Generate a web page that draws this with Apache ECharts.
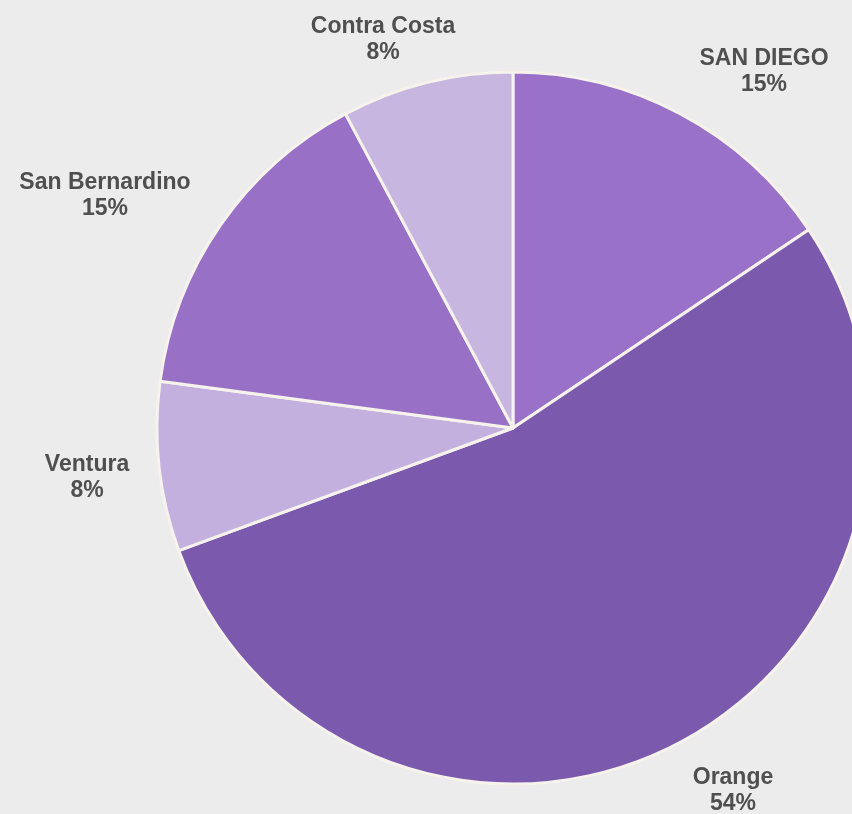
<!DOCTYPE html>
<html>
<head>
<meta charset="utf-8">
<script src="https://cdn.jsdelivr.net/npm/echarts@6/dist/echarts.min.js"></script>
<style>
  html, body { margin: 0; padding: 0; background: #ececec; }
  #chart { width: 852px; height: 814px; }
</style>
</head>
<body>
<div id="chart"></div>
<script>
// counties, clockwise from 12 o'clock
const counties = ["SAN DIEGO", "Orange", "Ventura", "San Bernardino", "Contra Costa"];
const shares = [15.6, 53.8, 7.7, 15.1, 7.8];

const COLORS = ["#9a71c8", "#7b5aae", "#c3b0de", "#9870c6", "#c7b7e0"];
// where each label sits (centre of the text block)
const LABEL_AT = {
  "SAN DIEGO": [764, 72],
  "Orange": [733, 791],
  "Ventura": [87, 478],
  "San Bernardino": [105, 196],
  "Contra Costa": [383, 40]
};

const chart = echarts.init(document.getElementById("chart"));

const option = {
  animation: false,
  backgroundColor: "#ececec",
  series: [
    {
      type: "pie",
      center: [513, 428],
      radius: 356,
      startAngle: 90,
      clockwise: true,
      percentPrecision: 0,
      avoidLabelOverlap: false,
      itemStyle: {
        borderColor: "#f6f2ec",
        borderWidth: 3
      },
      label: {
        show: true,
        position: "outside",
        formatter: "{b}\n{d}%",
        fontFamily: "Liberation Sans, Arial, sans-serif",
        fontWeight: "bold",
        fontSize: 23,
        lineHeight: 26,
        color: "#4f4f4f",
        align: "center"
      },
      labelLine: { show: false },
      labelLayout: params => {
        const p = LABEL_AT[params.text.split("\n")[0]];
        return { x: p[0], y: p[1], align: "center", verticalAlign: "middle" };
      },
      data: counties.map((name, i) => ({
        name: name,
        value: shares[i],
        itemStyle: { color: COLORS[i] }
      }))
    }
  ]
};

chart.setOption(option);
</script>
</body>
</html>
